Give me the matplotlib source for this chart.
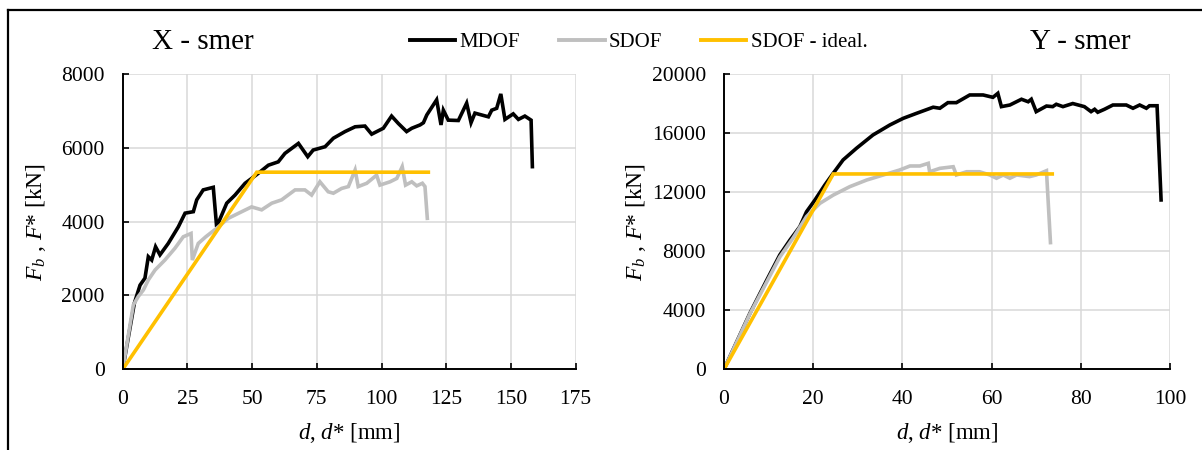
import matplotlib
matplotlib.use("Agg")
import matplotlib.pyplot as plt
from matplotlib.lines import Line2D

plt.rcParams["font.family"] = ["Liberation Serif", "DejaVu Serif"]
plt.rcParams["mathtext.fontset"] = "custom"
plt.rcParams["mathtext.rm"] = "Liberation Serif"
plt.rcParams["mathtext.it"] = "Liberation Serif:italic"
plt.rcParams["mathtext.bf"] = "Liberation Serif:bold"

# ---- X direction: pushover curves ----
x_mdof_d = [0, 4.5, 6.7, 8.6, 9.9, 11.2, 12.7, 14.4, 17.6, 21.5, 24.1, 27.3, 28.6, 31.1,
            35.0, 36.3, 40.2, 43.4, 47.3, 49.8, 52.4, 56.3, 60.1, 62.7, 67.9, 71.5, 73.6,
            78.2, 81.4, 85.9, 89.8, 93.6, 96.2, 100.7, 103.9, 106.5, 109.7, 111.7, 114.9,
            116.2, 117.5, 121.3, 123.0, 123.9, 125.8, 129.7, 132.9, 134.6, 136.1, 141.3,
            142.6, 144.5, 146.1, 147.7, 150.9, 152.9, 155.4, 157.8, 158.3]
x_mdof_f = [0, 1790, 2280, 2470, 3050, 2960, 3320, 3100, 3410, 3860, 4230, 4270, 4590, 4860,
            4930, 3860, 4500, 4720, 5040, 5170, 5310, 5530, 5620, 5850, 6120, 5760, 5940,
            6030, 6260, 6440, 6570, 6590, 6370, 6530, 6860, 6660, 6440, 6530, 6620,
            6680, 6890, 7300, 6620, 7020, 6750, 6740, 7210, 6680, 6940, 6840,
            7020, 7070, 7460, 6770, 6920, 6770, 6860, 6750, 5490]

x_sdof_d = [0, 4.1, 6.0, 8.0, 9.9, 12.5, 16.3, 20.2, 23.4, 26.4, 26.9, 29.2, 32.1, 36.3,
            40.8, 46.0, 49.8, 53.7, 57.6, 61.4, 66.6, 70.4, 73.0, 76.2, 79.4, 81.4, 84.6,
            87.2, 89.8, 91.0, 94.3, 98.1, 99.4, 103.3, 105.9, 108.0, 109.3, 111.7, 113.6,
            115.8, 116.8, 117.7]
x_sdof_f = [0, 1740, 1970, 2150, 2420, 2690, 2960, 3280, 3590, 3680, 2960, 3410, 3590, 3820,
            4090, 4270, 4400, 4320, 4500, 4590, 4860, 4860, 4720, 5080, 4810, 4770, 4900,
            4950, 5400, 4950, 5040, 5260, 4990, 5080, 5170, 5490, 4990, 5080, 4970,
            5040, 4950, 4090]

x_ideal_d = [0, 51.8, 118.1]
x_ideal_f = [0, 5340, 5340]

# ---- Y direction: pushover curves ----
y_mdof_d = [0, 5.8, 9.6, 12.5, 14.8, 17.0, 18.5, 20.4, 22.6, 24.5, 26.7, 29.7, 33.4, 37.2,
            40.2, 43.2, 46.9, 48.4, 50.2, 52.1, 55.1, 58.1, 60.3, 61.4, 62.2, 64.1, 66.7,
            68.2, 68.9, 70.0, 72.3, 73.7, 74.5, 76.0, 78.2, 80.8, 82.3, 83.1, 83.8, 85.3,
            87.2, 90.2, 91.7, 93.2, 94.7, 95.4, 97.1, 98.0]
y_mdof_f = [0, 3790, 6050, 7740, 8760, 9660, 10670, 11470, 12480, 13280, 14180, 14970, 15870,
            16550, 17000, 17340, 17750, 17680, 18060, 18060, 18580, 18580, 18420, 18690,
            17790, 17900, 18290, 18120, 18290, 17450, 17830, 17790, 17950, 17790, 18000,
            17790, 17450, 17610, 17410, 17610, 17900, 17900, 17680, 17900, 17680, 17850,
            17850, 11470]

y_sdof_d = [0, 5.8, 9.6, 12.5, 15.5, 18.5, 21.5, 24.5, 28.2, 32.0, 35.7, 39.4, 41.7, 43.9,
            45.8, 46.1, 48.4, 51.4, 52.1, 54.4, 57.3, 59.6, 61.1, 62.6, 64.1, 65.6, 68.5,
            70.0, 72.3, 73.2]
y_sdof_f = [0, 3750, 5930, 7600, 8900, 10340, 11240, 11800, 12370, 12820, 13160, 13500, 13770,
            13770, 13950, 13380, 13610, 13720, 13160, 13380, 13380, 13160, 12940, 13160,
            12940, 13160, 13050, 13160, 13450, 8580]

y_ideal_d = [0, 24.5, 73.6]
y_ideal_f = [0, 13230, 13230]

x_dir_ticks = [0, 25, 50, 75, 100, 125, 150, 175]
x_force_ticks = [0, 2000, 4000, 6000, 8000]
y_dir_ticks = [0, 20, 40, 60, 80, 100]
y_force_ticks = [0, 4000, 8000, 12000, 16000, 20000]

series_names = ["MDOF", "SDOF", "SDOF - ideal."]
series_colors = ["#000000", "#BFBFBF", "#FFC000"]

W, H = 1202, 450
fig = plt.figure(figsize=(W / 100, H / 100), dpi=100)

ax1 = fig.add_axes([122.7 / W, 1 - 369.3 / H, 452.9 / W, 295.3 / H])
ax2 = fig.add_axes([724 / W, 1 - 369.3 / H, 446 / W, 295.3 / H])

lw = 2.6
for ax, curves in ((ax1, [(x_mdof_d, x_mdof_f), (x_sdof_d, x_sdof_f), (x_ideal_d, x_ideal_f)]),
                   (ax2, [(y_mdof_d, y_mdof_f), (y_sdof_d, y_sdof_f), (y_ideal_d, y_ideal_f)])):
    for (d, f), c in zip(curves, series_colors):
        ax.plot(d, f, color=c, lw=lw, solid_joinstyle="miter", zorder=3)

ax1.set_xlim(0, 175)
ax1.set_ylim(0, 8000)
ax1.set_xticks(x_dir_ticks)
ax1.set_yticks(x_force_ticks)
ax2.set_xlim(0, 100)
ax2.set_ylim(0, 20000)
ax2.set_xticks(y_dir_ticks)
ax2.set_yticks(y_force_ticks)

for ax in (ax1, ax2):
    ax.grid(True, color="#D9D9D9", lw=1.1, zorder=0)
    ax.set_axisbelow(True)
    for s in ("top", "right"):
        ax.spines[s].set_visible(False)
    for s in ("left", "bottom"):
        ax.spines[s].set_linewidth(1.4)
        ax.spines[s].set_zorder(4)
    ax.tick_params(axis="both", direction="in", length=4.5, width=1.2, labelsize=15.5)
    ax.tick_params(axis="x", pad=15)
    ax.tick_params(axis="y", pad=13)
    ax.set_xlabel(r"$d$, $d$* [mm]", fontsize=16.5)
    ax.set_ylabel(r"$F_b$ , $F$* [kN]", fontsize=17)
    ax.xaxis.set_label_coords(0.5, (369.3 - 433) / 295.3)
    ax.xaxis.label.set_verticalalignment("center")

ax1.yaxis.set_label_coords((36 - 122.7) / 452.9, 0.5)
ax2.yaxis.set_label_coords((636 - 724) / 446, 0.5)
for ax in (ax1, ax2):
    ax.yaxis.label.set_verticalalignment("center")

fig.text(203 / W, 1 - 42 / H, "X - smer", fontsize=21, ha="center", va="center")
fig.text(1080 / W, 1 - 42 / H, "Y - smer", fontsize=21, ha="center", va="center")

handles = [Line2D([], [], color=c, lw=2.8) for c in series_colors]
fig.legend(handles, series_names, ncol=3, loc="center",
           bbox_to_anchor=(638.5 / W, 1 - 42 / H), frameon=False, fontsize=15,
           handlelength=2.2, handletextpad=0.2, columnspacing=1.85)

# outer frame (top and left edges)
fig.add_artist(Line2D([8 / W, 1], [1 - 10 / H, 1 - 10 / H], color="black", lw=1.6,
                      transform=fig.transFigure))
fig.add_artist(Line2D([8 / W, 8 / W], [0, 1 - 10 / H], color="black", lw=1.6,
                      transform=fig.transFigure))

fig.savefig("out.png", dpi=100)
